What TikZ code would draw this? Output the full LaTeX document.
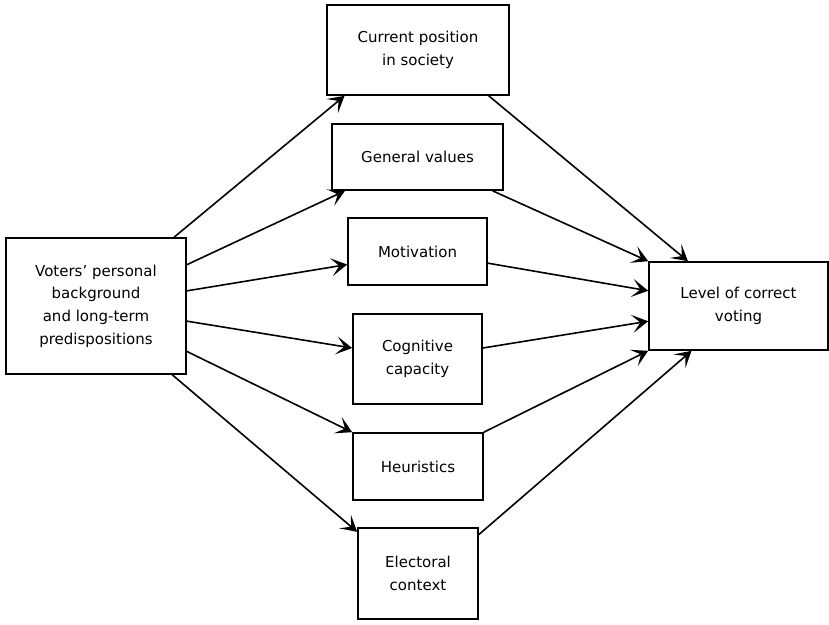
\documentclass[tikz,border=0pt]{standalone}
\usepackage{fontspec}
\setmainfont{DejaVu Sans}
\usetikzlibrary{arrows.meta,calc}

\begin{document}
\begin{tikzpicture}[x = 1pt, y = -1pt, every node/.style={font=\fontsize{15}{22.6}\selectfont},
  factor/.style={align=center,rectangle,draw,line width=1.6pt,inner sep=0pt},
  link/.style={-{Stealth[length=16pt,width=18pt,inset=8pt]}, line width=1.6pt}]
\useasboundingbox (0,0) rectangle (829,624);
\node[factor,minimum width=180,minimum height=136] (voters) at (96,306) {Voters' personal\\background\\and long-term\\predispositions};
\node[factor,minimum width=182,minimum height=90] (position) at (418,50) {Current position\\in society};
\node[factor,minimum width=171,minimum height=66] (values) at (417.5,157) {General values};
\node[factor,minimum width=139,minimum height=67] (motivation) at (417.5,251.5) {Motivation};
\node[factor,minimum width=129,minimum height=90] (capacity) at (417.5,359) {Cognitive\\capacity};
\node[factor,minimum width=130,minimum height=67] (heuristics) at (418,466.5) {Heuristics};
\node[factor,minimum width=120,minimum height=91] (context) at (418,573.5) {Electoral\\context};
\node[factor,minimum width=179,minimum height=88] (voting) at (738.5,306) {Level of correct\\voting};
% background -> mediating factors
\draw[link] ($(voters.north west)!.93!(voters.north east)$) -- ($(position.south west)!.1!(position.south east)$);
\draw[link] ($(voters.north east)!.2!(voters.south east)$) -- ($(values.south west)!.08!(values.south east)$);
\draw[link] ($(voters.north east)!.39!(voters.south east)$) -- ($(motivation.north west)!.69!(motivation.south west)$);
\draw[link] ($(voters.north east)!.61!(voters.south east)$) -- ($(capacity.north west)!.38!(capacity.south west)$);
\draw[link] ($(voters.north east)!.83!(voters.south east)$) -- (heuristics.north west);
\draw[link] ($(voters.south west)!.92!(voters.south east)$) -- ($(context.north west)!.05!(context.south west)$);
% mediating factors -> correct voting
\draw[link] ($(position.south west)!.885!(position.south east)$) -- ($(voting.north west)!.22!(voting.north east)$);
\draw[link] ($(values.south west)!.935!(values.south east)$) -- (voting.north west);
\draw[link] ($(motivation.north east)!.67!(motivation.south east)$) -- ($(voting.north west)!.33!(voting.south west)$);
\draw[link] ($(capacity.north east)!.38!(capacity.south east)$) -- ($(voting.north west)!.67!(voting.south west)$);
\draw[link] (heuristics.north east) -- (voting.south west);
\draw[link] ($(context.north east)!.08!(context.south east)$) -- ($(voting.south west)!.24!(voting.south east)$);
\end{tikzpicture}
\end{document}
